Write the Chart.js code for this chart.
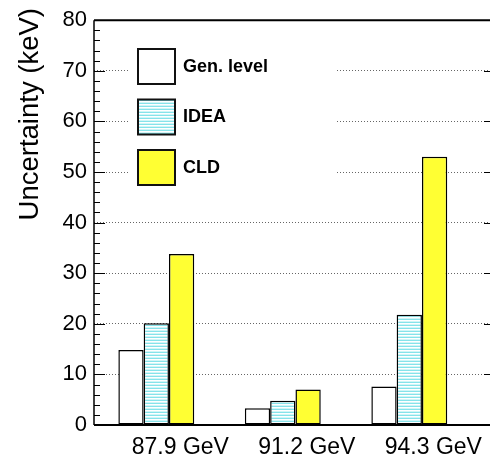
<!DOCTYPE html>
<html>
<head>
<meta charset="utf-8">
<script src="https://cdn.jsdelivr.net/npm/chart.js@4.4.0/dist/chart.umd.min.js"></script>
<style>
	body { margin: 0; background: #fff; }
	#wrap { width: 490px; height: 455px; }
</style>
</head>
<body>
<div id="wrap"><canvas id="uncChart" width="490" height="455"></canvas></div>
<script>
	// centre-of-mass energy points
	var energies = ['87.9 GeV', '91.2 GeV', '94.3 GeV'];
	// uncertainty per energy point, keV
	var genLevel = [14.8, 3.3, 7.6];
	var ideaVals = [20.1, 4.8, 21.8];
	var cldVals = [33.8, 7.0, 53.0];
	var seriesNames = ['Gen. level', 'IDEA', 'CLD'];

	var FONT = '"Liberation Sans", Arial, Helvetica, sans-serif';
	// bin labels sit a bit right of the bar groups
	var LABEL_SHIFT = 0.19;

	function toPoints(vals) {
		return vals.map(function (v, i) { return { x: i + 1, y: v }; });
	}

	// light cyan horizontal hatch for the IDEA bars
	function hatch(ctx) {
		var c = document.createElement('canvas');
		c.width = 6; c.height = 3;
		var g = c.getContext('2d');
		g.fillStyle = '#fff';
		g.fillRect(0, 0, 6, 3);
		g.fillStyle = '#d2f5f7';
		g.fillRect(0, 0, 6, 1);
		g.fillStyle = '#86e3ea';
		g.fillRect(0, 1, 6, 1);
		return ctx.createPattern(c, 'repeat');
	}

	// frame + inward ticks, ROOT style
	var frame = {
		id: 'frame',
		afterDatasetsDraw: function (chart) {
			var ctx = chart.ctx, a = chart.chartArea, y = chart.scales.y;
			ctx.save();
			ctx.strokeStyle = '#000';
			ctx.lineWidth = 1;
			for (var v = 0; v <= 80; v += 2) {
				var py = Math.round(y.getPixelForValue(v)) + 0.5;
				var major = v % 10 === 0;
				ctx.beginPath();
				ctx.moveTo(a.left, py);
				ctx.lineTo(a.left + (major ? 11 : 6), py);
				if (major) {
					ctx.moveTo(a.right - 6, py);
					ctx.lineTo(a.right, py);
				}
				ctx.stroke();
			}
			ctx.lineWidth = 1.5;
			ctx.beginPath();
			ctx.moveTo(a.left, a.bottom);
			ctx.lineTo(a.left, a.top);
			ctx.stroke();
			ctx.lineWidth = 2;
			ctx.beginPath();
			ctx.moveTo(a.left, a.top);
			ctx.lineTo(a.right, a.top);
			ctx.moveTo(a.left, a.bottom);
			ctx.lineTo(a.right, a.bottom);
			ctx.stroke();
			ctx.restore();
		}
	};

	// y title hangs from the top of the axis
	var yTitle = {
		id: 'yTitle',
		afterDraw: function (chart) {
			var ctx = chart.ctx;
			ctx.save();
			ctx.translate(30, 8);
			ctx.rotate(-Math.PI / 2);
			ctx.fillStyle = '#000';
			ctx.font = '27.5px ' + FONT;
			ctx.textAlign = 'right';
			ctx.textBaseline = 'middle';
			ctx.fillText('Uncertainty (keV)', 0, 0);
			ctx.restore();
		}
	};

	// boxed legend sitting in the upper left of the pad
	var legendBox = {
		id: 'legendBox',
		afterDraw: function (chart) {
			var ctx = chart.ctx;
			ctx.save();
			ctx.fillStyle = '#fff';
			ctx.fillRect(128, 40, 207, 155);
			chart.data.datasets.forEach(function (ds, i) {
				var top = 49 + i * 50.5;
				ctx.fillStyle = ds.backgroundColor;
				ctx.fillRect(138, top, 37, 35);
				ctx.lineWidth = 2;
				ctx.strokeStyle = '#111';
				ctx.strokeRect(138, top, 37, 35);
				ctx.fillStyle = '#000';
				ctx.font = 'bold 18px ' + FONT;
				ctx.textBaseline = 'middle';
				ctx.fillText(ds.label, 183, top + 18);
			});
			ctx.restore();
		}
	};

	var ctx = document.getElementById('uncChart').getContext('2d');
	var fills = ['#ffffff', hatch(ctx), '#ffff33'];
	var series = [genLevel, ideaVals, cldVals];

	var datasets = series.map(function (vals, i) {
		return {
			label: seriesNames[i],
			data: toPoints(vals),
			backgroundColor: fills[i],
			borderColor: '#000',
			borderWidth: 1.5,
			borderSkipped: false,
			categoryPercentage: 0.6,
			barPercentage: 1
		};
	});

	new Chart(ctx, {
		type: 'bar',
		data: { datasets: datasets },
		options: {
			responsive: false,
			animation: false,
			devicePixelRatio: 1,
			layout: { padding: { top: 16, right: 0, left: 0, bottom: 0 } },
			plugins: {
				legend: { display: false },
				tooltip: { enabled: false }
			},
			scales: {
				x: {
					type: 'linear',
					bounds: 'data',
					offset: false,
					min: 0.5075,
					max: 3.638,
					grid: { display: false, offset: false },
					border: { display: false },
					ticks: {
						autoSkip: false,
						maxRotation: 0,
						padding: 3,
						color: '#000',
						font: { family: FONT, size: 23, lineHeight: 1 },
						callback: function (v, i) { return energies[i]; }
					},
					afterBuildTicks: function (s) {
						s.ticks = energies.map(function (e, i) { return { value: i + 1 + LABEL_SHIFT }; });
					},
					afterFit: function (s) { s.height = 30; }
				},
				y: {
					min: 0,
					max: 80,
					ticks: {
						stepSize: 10,
						padding: 7,
						color: '#000',
						font: { family: FONT, size: 22 }
					},
					grid: {
						drawTicks: false,
						lineWidth: 1,
						color: function (c) {
							var v = c.tick ? c.tick.value : 0;
							return (v === 0 || v === 80) ? 'rgba(0,0,0,0)' : '#666';
						}
					},
					border: { display: false, dash: [1, 2] },
					afterFit: function (s) { s.width = 94; }
				}
			}
		},
		plugins: [frame, yTitle, legendBox]
	});
</script>
</body>
</html>
